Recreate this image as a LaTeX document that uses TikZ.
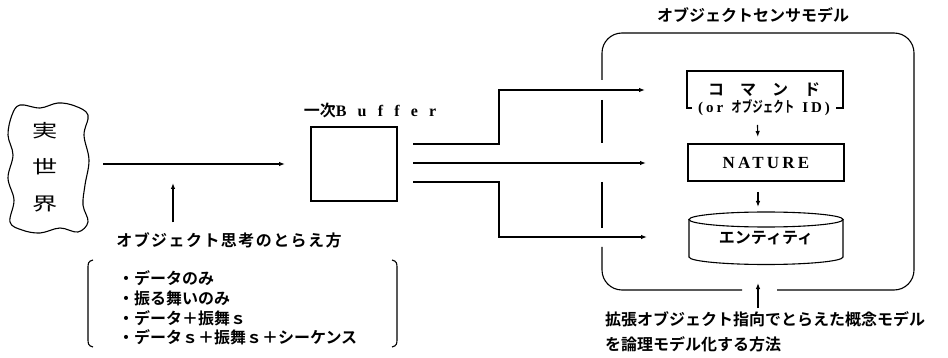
\documentclass[tikz,border=0pt]{standalone}
\usepackage{fontspec}
\usepackage{graphicx}
\setmainfont{Noto Sans CJK JP}[BoldFont=* Bold]
\newfontfamily\serif{Liberation Serif}
\usetikzlibrary{arrows.meta,calc}

\tikzset{
  every node/.style={inner sep=0pt, outer sep=0pt},
  ln/.style={line width=1.1pt},
  arr/.style={ln, -{Latex[length=6pt,width=4.5pt]}},
  jtxt/.style={font=\bfseries\fontsize{16}{20}\selectfont},
  box/.style={draw, ln, minimum width=156pt, minimum height=37pt},
}

\begin{document}
\begin{tikzpicture}[x=1pt,y=-1pt]
\useasboundingbox (0,0) rectangle (948,358);

% the real world, as a cloud
\draw[ln] plot[smooth cycle, tension=0.6] coordinates {(20,105) (40,108) (58,103) (75,106) (88,115) (84,135) (89,160) (85,185) (83,205) (88,222) (78,232) (60,228) (40,233) (22,230) (10,222) (14,200) (8,178) (13,155) (8,135) (12,115)};
\node[font=\fontsize{18}{36.5}\selectfont, align=center] (world) at (45,167)
  {\scalebox{1.4}[1]{実}\\\scalebox{1.4}[1]{世}\\\scalebox{1.4}[1]{界}};
\coordinate (worldE) at (89,164);

% primary buffer
\node[draw, ln, minimum width=86pt, minimum height=74pt] (buf) at (354,164) {};
\node[font=\bfseries\fontsize{16}{16}\selectfont] (buflbl) at (370,110)
  {一次{\serif\addfontfeature{LetterSpace=70}Buffer}};
\draw[arr, shorten <=14pt, shorten >=26pt] (worldE) -- (buf.west);

% how objects are viewed
\node[font=\bfseries\fontsize{16}{16}\selectfont\addfontfeature{LetterSpace=9}] (view) at (229,240) {オブジェクト思考のとらえ方};
\coordinate (vtip) at (173,165);
\draw[arr] ($(vtip |- view.north)+(0,-10)$) -- ($(vtip)+(0,18)$);

\draw[ln] (93,260) .. controls (88,261) and (88,264) .. (88,268) -- (88,339) .. controls (88,343) and (88,346) .. (93,347);
\draw[ln] (392,260) .. controls (397,261) and (397,264) .. (397,268) -- (397,339) .. controls (397,343) and (397,346) .. (392,347);
\node[font=\bfseries\fontsize{16}{19.6}\selectfont, align=left, anchor=north west] (list) at (118,271)
  {・データのみ\\・振る舞いのみ\\・データ＋振舞ｓ\\・データｓ＋振舞ｓ＋シーケンス};

% object sensor model frame (broken where the connectors pass)
\node[jtxt] (title) at (753,15) {オブジェクトセンサモデル};
\draw[ln, rounded corners=20pt] (602,80) -- (602,33) -- (914,33) -- (914,290) -- (777,290);
\draw[ln] (602,100) -- (602,143);
\draw[ln] (602,182) -- (602,228);
\draw[ln, rounded corners=20pt] (602,247) -- (602,290) -- (742,290);

% command box, open along the bottom for its second line
\node[minimum width=156pt, minimum height=37pt] (cmd) at (765,89.5) {};
\draw[ln] ($(cmd.south west)+(5,0)$) -- (cmd.south west) -- (cmd.north west) -- (cmd.north east) -- (cmd.south east) -- ++(-7,0);
\node[jtxt] (cmdtxt) at (764,90) {コ　マ　ン　ド};
\node[font=\bfseries\fontsize{15}{15}\selectfont] (cmdid) at (764,108)
  {{\serif\addfontfeature{LetterSpace=20}(or}\hspace{8pt}\scalebox{0.7}[1]{オブジェクト}\hspace{8pt}{\serif\addfontfeature{LetterSpace=20}ID)}};

% nature box
\node[box] (nat) at (766,162.5) {\serif\bfseries\fontsize{17}{17}\selectfont\addfontfeature{LetterSpace=19}NATURE};

% entity store
\node[minimum width=154pt, minimum height=45pt, font=\bfseries\fontsize{16}{16}\selectfont] (ent) at (766,238) {エンティティ};
\draw[ln] (766,219.5) ellipse [x radius=77pt, y radius=7.5pt];
\draw[ln] (689,219.5) -- (689,257) arc[start angle=180, end angle=360, x radius=77pt, y radius=7.5pt] -- (843,219.5);

\draw[arr, shorten <=17pt, shorten >=7pt] ([xshift=-8pt]cmd.south) -- ([xshift=-8pt]nat.north);
\draw[arr, shorten <=11pt, shorten >=8.5pt] ([xshift=-8pt]nat.south) -- ([xshift=-8pt]ent.north);

% buffer outputs
\coordinate (jt) at (499,90);
\coordinate (jb) at (499,237);
\coordinate (t0) at ($(buf.east)+(16,-20)$);
\coordinate (m0) at ($(buf.east)+(16,-1)$);
\coordinate (b0) at ($(buf.east)+(16,18)$);
\draw[arr, shorten >=42pt] (t0) -| (jt) -- (jt -| cmd.west);
\draw[arr, shorten >=42pt] (m0) -- (m0 -| nat.west);
\draw[arr, shorten >=42pt] (b0) -| (jb) -- (jb -| ent.west);

% modelling method
\node[font=\bfseries\fontsize{16}{25}\selectfont, align=left, anchor=north west] (meth) at (605,312)
  {拡張オブジェクト指向でとらえた概念モデル\\を論理モデル化する方法};
\coordinate (fbot) at (758,283);
\draw[arr] ($(fbot |- meth.north)+(0,-4)$) -- (fbot);
\end{tikzpicture}
\end{document}
